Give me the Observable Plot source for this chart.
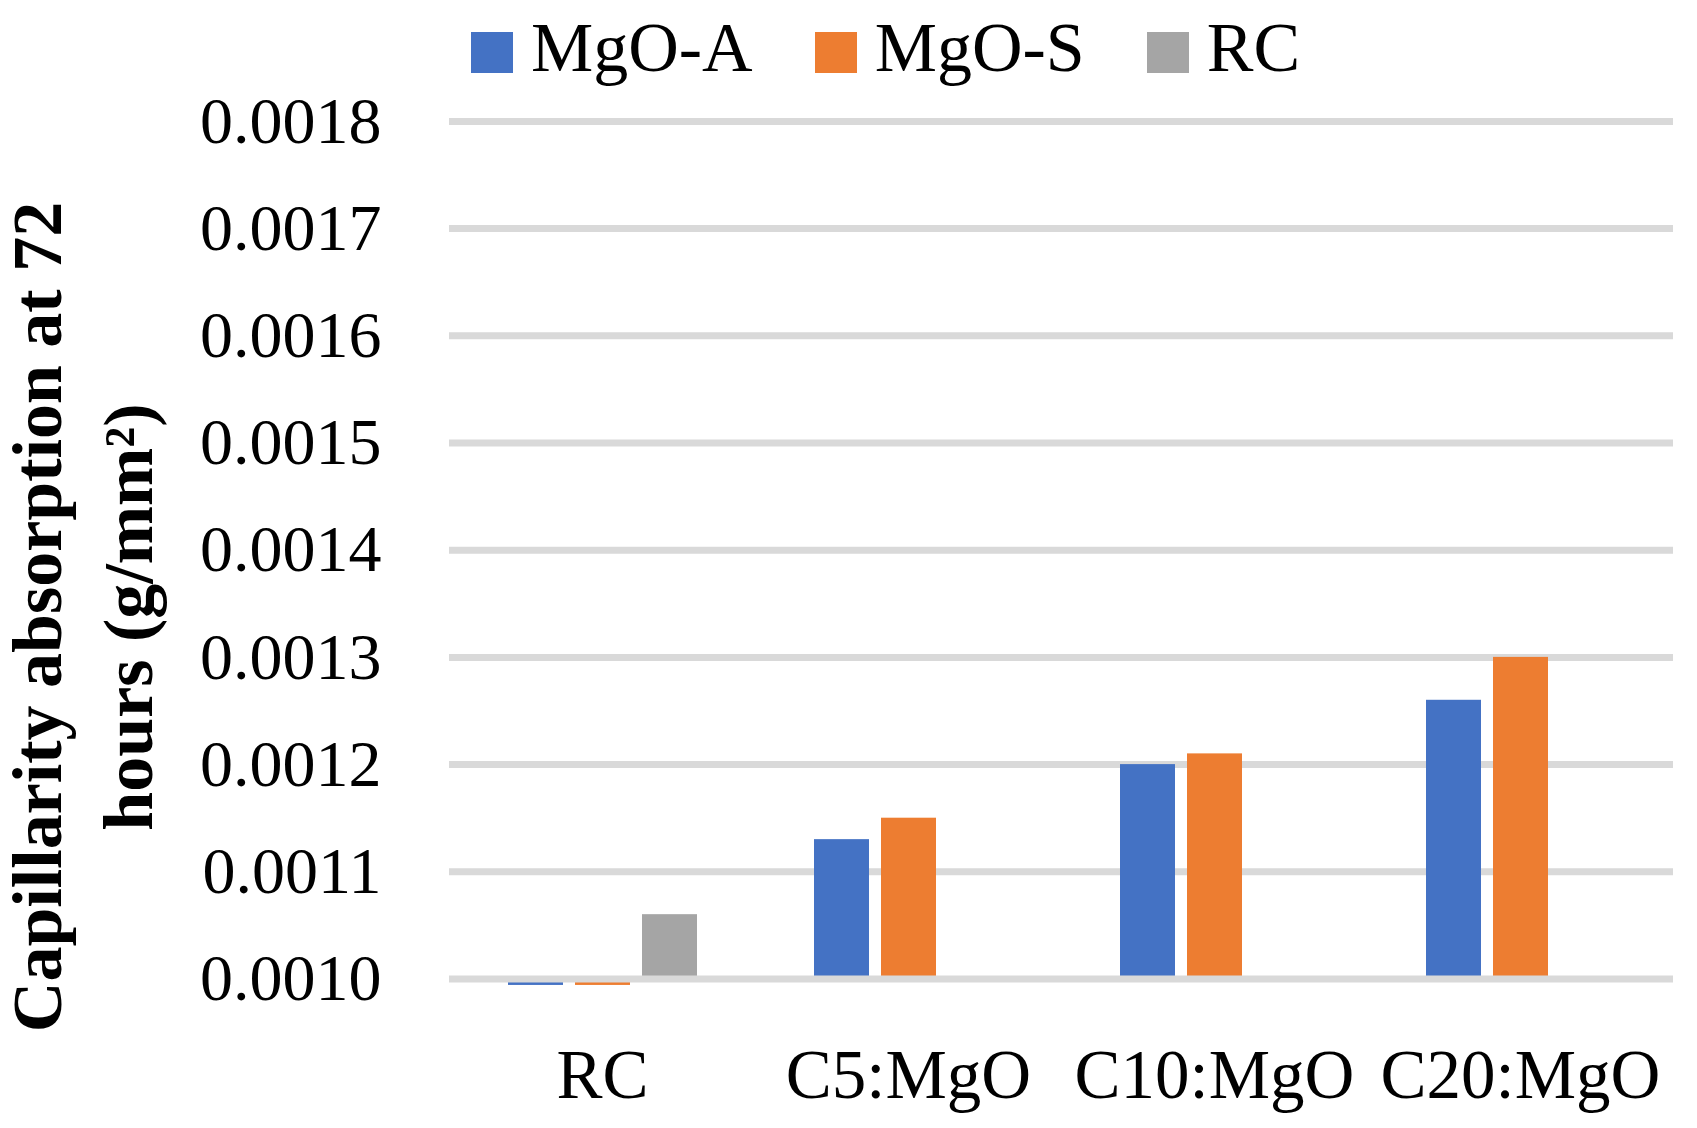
<!DOCTYPE html>
<html><head><meta charset="utf-8">
<script src="https://cdn.jsdelivr.net/npm/d3@7"></script>
<script src="https://cdn.jsdelivr.net/npm/@observablehq/plot@0.6"></script>
<style>
body{margin:0;background:#fff;font-family:"Liberation Serif",serif;width:1697px;height:1128px;overflow:hidden;position:relative;}
#legend{position:relative;height:100px;width:1697px;}
#legend .items{position:absolute;left:471px;top:13px;display:flex;gap:62px;}
.item{display:flex;align-items:flex-start;gap:18px;}
.sw{width:42px;height:41px;margin-top:19px;}
.lab{font-size:70px;line-height:70px;color:#000;white-space:nowrap;}
#ytitle{position:absolute;left:83.4px;top:616.5px;transform:translate(-50%,-50%) rotate(-90deg);
  font-family:"Liberation Serif",serif;font-weight:bold;font-size:70px;line-height:91px;text-align:center;white-space:nowrap;color:#000;}
</style></head><body>
<div id="legend"><div class="items"></div></div>
<div id="chart"></div>
<div id="ytitle"></div>
<script>
const categories = ["RC", "C5:MgO", "C10:MgO", "C20:MgO"];
const seriesNames = ["MgO-A", "MgO-S", "RC"];
const seriesColors = ["#4472c4", "#ed7d31", "#a5a5a5"];
const mgoA = [0.000994, 0.00113, 0.00120, 0.00126];
const mgoS = [0.000994, 0.00115, 0.00121, 0.00130];
const rcRef = [0.00106, null, null, null];
const yTicks = [0.0010, 0.0011, 0.0012, 0.0013, 0.0014, 0.0015, 0.0016, 0.0017, 0.0018];
const axisMin = 0.0010;
const yTitleLines = ["Capillarity absorption at 72", "hours (g/mm²)"];

const seriesValues = [mgoA, mgoS, rcRef];
const rows = [];
categories.forEach((c, i) => {
  seriesNames.forEach((s, j) => {
    const v = seriesValues[j][i];
    if (v != null) rows.push({category: c, series: s, value: v});
  });
});

// legend
const items = document.querySelector("#legend .items");
seriesNames.forEach((s, j) => {
  const it = document.createElement("div");
  it.className = "item";
  const sw = document.createElement("div");
  sw.className = "sw";
  sw.style.background = seriesColors[j];
  const lab = document.createElement("span");
  lab.className = "lab";
  lab.textContent = s;
  it.append(sw, lab);
  items.append(it);
});

// y title
const yt = document.getElementById("ytitle");
yTitleLines.forEach((t, i) => {
  if (i) yt.append(document.createElement("br"));
  yt.append(document.createTextNode(t));
});

const chart = Plot.plot({
  width: 1697,
  height: 1028,
  marginLeft: 448,
  marginRight: 24,
  marginTop: 20.9,
  marginBottom: 149.5,
  style: {fontFamily: "Liberation Serif, serif", background: "white", color: "black", overflow: "visible"},
  fx: {domain: categories, paddingInner: 0, paddingOuter: 0, label: null},
  x: {domain: seriesNames, paddingInner: 0.185, paddingOuter: 0.861, axis: null},
  y: {domain: [yTicks[0], yTicks[yTicks.length - 1]]},
  color: {domain: seriesNames, range: seriesColors},
  marks: [
    Plot.ruleY(yTicks.slice(1), {stroke: "#d9d9d9", strokeWidth: 7}),
    Plot.barY(rows, {fx: "category", x: "series", y1: () => axisMin, y2: "value", fill: "series"}),
    Plot.ruleY([axisMin], {stroke: "#d9d9d9", strokeWidth: 7}),
    Plot.axisY({ticks: yTicks, tickFormat: d3.format(".4f"), tickSize: 0, tickPadding: 68, fontSize: 66, label: null}),
    Plot.axisFx({anchor: "bottom", tickSize: 0, tickPadding: 69.5, fontSize: 69, label: null})
  ]
});
document.getElementById("chart").append(chart);
</script>
</body></html>
